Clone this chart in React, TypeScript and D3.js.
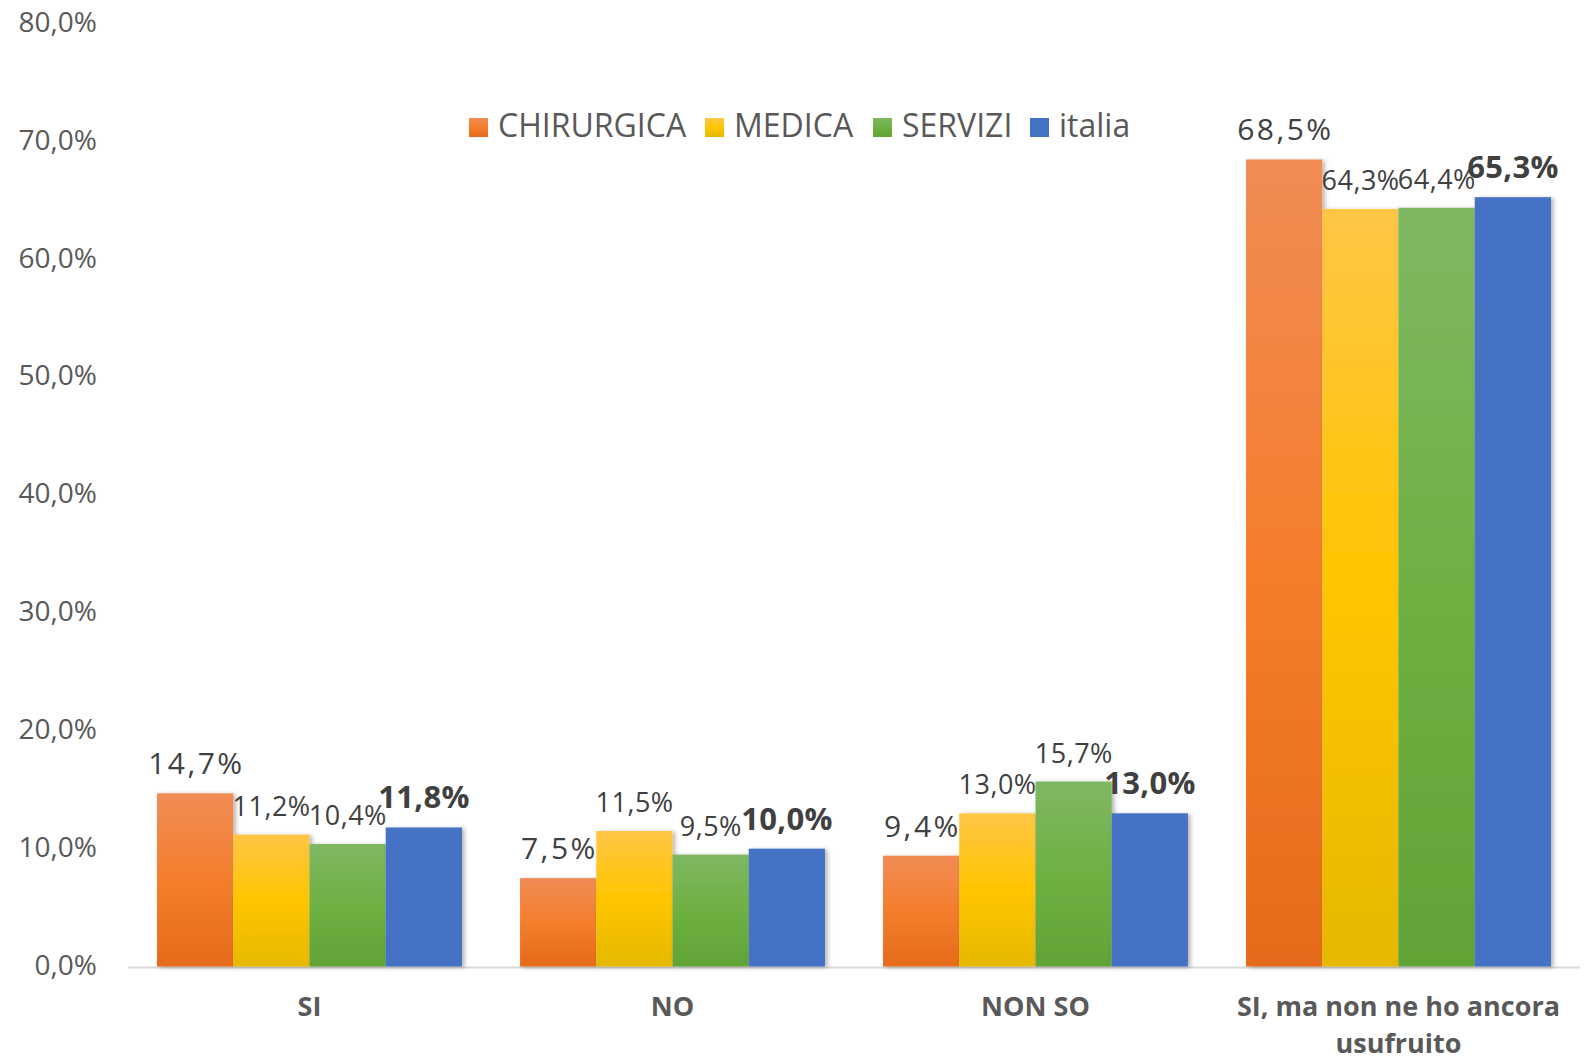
import * as d3 from "d3";

const categories = ["SI", "NO", "NON SO", "SI, ma non ne ho ancora usufruito"];
const categoryLines = [["SI"], ["NO"], ["NON SO"], ["SI, ma non ne ho ancora", "usufruito"]];
const series = ["CHIRURGICA", "MEDICA", "SERVIZI", "italia"];

const chirurgica = [14.7, 7.5, 9.4, 68.5];
const medica = [11.2, 11.5, 13.0, 64.3];
const servizi = [10.4, 9.5, 15.7, 64.4];
const italia = [11.8, 10.0, 13.0, 65.3];

const yTicks = [0, 10, 20, 30, 40, 50, 60, 70, 80];

const values = [chirurgica, medica, servizi, italia];

// gradient stops per series: top, middle, bottom
const gradients = [
  ["#F18C55", "#F47E2C", "#E56B1A"],
  ["#FFC546", "#FFC600", "#E6B800"],
  ["#7FB862", "#6FB043", "#62A336"],
  ["#4472C4", "#4472C4", "#4472C4"],
];

const labelStyle = [
  { size: 30, spacing: 2.5, weight: 400 },
  { size: 27, spacing: 0.5, weight: 400 },
  { size: 27, spacing: 0.5, weight: 400 },
  { size: 31, spacing: 0.3, weight: 700 },
];

const legendX = [469, 705, 873, 1030];

const W = 1591;
const H = 1061;
const font = "'Open Sans', 'DejaVu Sans', sans-serif";
const textColor = "#595959";

const fmt = (v: number) => v.toFixed(1).replace(".", ",") + "%";

export default function App() {
  const x = d3
    .scaleBand<string>()
    .domain(categories)
    .range([128, 1580])
    .paddingInner(0.16)
    .paddingOuter(0.08);
  const xs = d3.scaleBand<string>().domain(series).range([0, x.bandwidth()]);
  const y = d3.scaleLinear().domain([0, 80]).range([966.5, 24]);

  return (
    <svg
      width={W}
      height={H}
      style={{ position: "absolute", left: 0, top: 0, background: "#fff" }}
      fontFamily={font}
    >
      <defs>
        {gradients.map((g, i) => (
          <linearGradient key={i} id={`grad${i}`} x1="0" y1="0" x2="0" y2="1">
            <stop offset="0%" stopColor={g[0]} />
            <stop offset="50%" stopColor={g[1]} />
            <stop offset="100%" stopColor={g[2]} />
          </linearGradient>
        ))}
        <filter id="shadow" x="-10%" y="-10%" width="130%" height="130%">
          <feDropShadow dx="2.5" dy="1" stdDeviation="2" floodColor="#000" floodOpacity="0.3" />
        </filter>
      </defs>

      {yTicks.map((t) => (
        <text
          key={t}
          x={97}
          y={y(t) - 3}
          textAnchor="end"
          dominantBaseline="central"
          fontSize={28}
          fill={textColor}
        >
          {fmt(t)}
        </text>
      ))}

      <line x1={128} x2={1580} y1={967.5} y2={967.5} stroke="#D9D9D9" strokeWidth={2} />

      {categories.map((c, ci) => (
        <g key={c} transform={`translate(${x(c)},0)`}>
          {series.map((s, si) => {
            const v = values[si][ci];
            return (
              <rect
                key={s}
                x={xs(s)}
                y={y(v)}
                width={xs.bandwidth()}
                height={y(0) - y(v)}
                fill={`url(#grad${si})`}
                filter="url(#shadow)"
              />
            );
          })}
        </g>
      ))}

      {categories.map((c, ci) => (
        <g key={c} transform={`translate(${x(c)},0)`}>
          {series.map((s, si) => {
            const v = values[si][ci];
            const st = labelStyle[si];
            return (
              <text
                key={s}
                x={(xs(s) as number) + xs.bandwidth() / 2 + st.spacing / 2}
                y={y(v) - 19}
                textAnchor="middle"
                fontSize={st.size}
                fontWeight={st.weight}
                letterSpacing={st.spacing}
                fill="#404040"
              >
                {fmt(v)}
              </text>
            );
          })}
        </g>
      ))}

      {categories.map((c, ci) => (
        <text
          key={c}
          x={(x(c) as number) + x.bandwidth() / 2}
          y={1016}
          textAnchor="middle"
          fontSize={27}
          fontWeight={700}
          fill={textColor}
        >
          {categoryLines[ci].map((line, li) => (
            <tspan key={li} x={(x(c) as number) + x.bandwidth() / 2} dy={li === 0 ? 0 : 37}>
              {line}
            </tspan>
          ))}
        </text>
      ))}

      {series.map((s, si) => (
        <g key={s} transform={`translate(${legendX[si]},118)`}>
          <rect width={19} height={19} fill={`url(#grad${si})`} />
          <text x={29} y={19} fontSize={32} fill={textColor}>
            {s}
          </text>
        </g>
      ))}
    </svg>
  );
}
